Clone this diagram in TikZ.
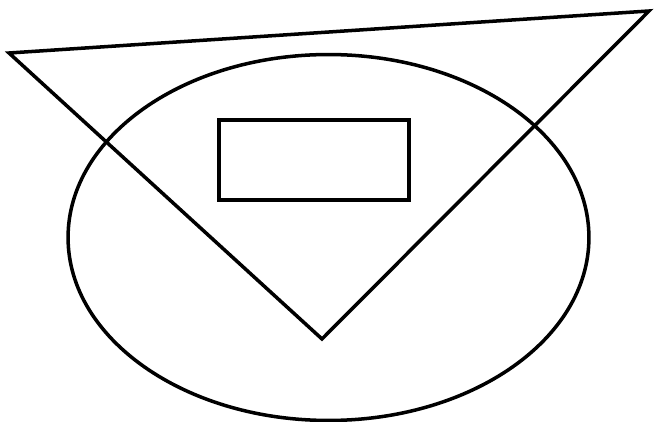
\documentclass[tikz,border=0pt]{standalone}
\usepackage{tikz}
\usetikzlibrary{shapes.geometric}

\begin{document}
\begin{tikzpicture}[
  x=0.02cm,y=-0.02cm,
  outline/.style={draw=black,line width=2pt,line join=miter},
]
\useasboundingbox (0,0) rectangle (654,422);

% --- ellipse
\node[outline,ellipse,inner sep=0pt,minimum width=10.42cm,minimum height=7.32cm] (oval) at (328.5,237.5) {};

% --- box
\node[outline,rectangle,inner sep=0pt,minimum width=3.8cm,minimum height=1.6cm] (box) at (314,160) {};

% --- triangle
\coordinate (tl) at (9,53);
\coordinate (tr) at (649,11);
\coordinate (tb) at (322,339);
\draw[outline] (tl) -- (tr) -- (tb) -- cycle;
\end{tikzpicture}
\end{document}
